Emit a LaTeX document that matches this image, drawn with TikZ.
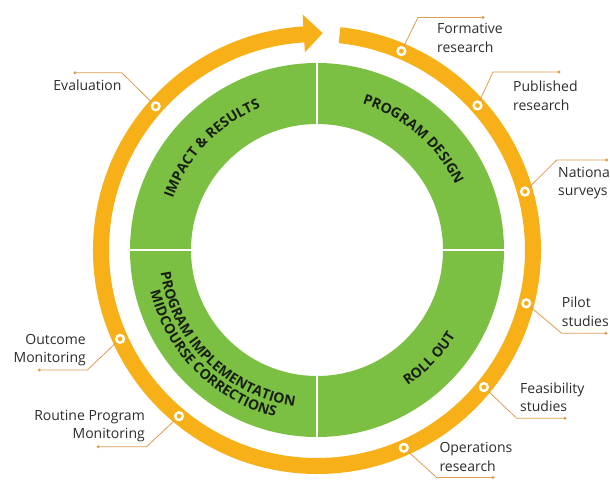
\documentclass[tikz,border=0pt]{standalone}
\usepackage{fontspec}
\setmainfont{Open Sans}
\usetikzlibrary{decorations.text}
\definecolor{ring}{RGB}{248,176,24}
\definecolor{grn}{RGB}{124,192,67}
\definecolor{lead}{RGB}{222,158,82}
\definecolor{txt}{RGB}{45,45,45}
\definecolor{gtxt}{RGB}{25,30,20}
\newcommand\ringtxt{\fontsize{14}{14}\selectfont\bfseries}
\begin{document}
\begin{tikzpicture}[x=1pt,y=1pt,
  dot/.style={circle,fill=white,minimum size=10pt,inner sep=0pt,
    path picture={\fill[ring] (path picture bounding box.center) circle[radius=2.4pt];}},
  leader/.style={draw=lead,line width=0.8pt},
  lend/.style={circle,fill=lead,inner sep=0pt,minimum size=3.2pt},
  lbl/.style={text=txt,font=\fontsize{14}{18.5}\selectfont,inner sep=0pt},
  ringlbl/.style={decorate,decoration={text along path,text align=center,text color=gtxt,text={|\ringtxt|#1}}}
]
\useasboundingbox[fill=white] (-317,-229) rectangle (293,250);

% green ring
\fill[grn,even odd rule] (0,0) circle[radius=187pt] (0,0) circle[radius=126pt];
\draw[white,line width=2pt] (0,-190) -- (0,190);
\draw[white,line width=2pt] (-190,0) -- (190,0);

% orange ring with arrow
\fill[ring] (84:224pt) arc[start angle=84,end angle=-266.5,radius=224pt]
  -- (-266.5:236pt) -- (88.5:217pt) -- (-266.5:198pt) -- (-266.5:208pt)
  arc[start angle=-266.5,end angle=84,radius=208pt] -- cycle;

% curved ring texts
\path[ringlbl={IMPACT {\&} RESULTS}] (176:153pt) arc[start angle=176,end angle=96,radius=153pt];
\path[ringlbl={PROGRAM DESIGN}] (89:153pt) arc[start angle=89,end angle=9,radius=153pt];
\path[ringlbl={ROLL OUT}] (-84:163pt) arc[start angle=-84,end angle=-4,radius=163pt];
\path[ringlbl={PROGRAM IMPLEMENTATION}] (185:158pt) arc[start angle=185,end angle=265,radius=158pt];
\path[ringlbl={MIDCOURSE CORRECTIONS}] (185:172pt) arc[start angle=185,end angle=265,radius=172pt];

% dots
\node[dot] (d1) at (67:216pt) {};
\node[dot] (d2) at (42:216pt) {};
\node[dot] (d3) at (15.7:216pt) {};
\node[dot] (d4) at (-14.3:216pt) {};
\node[dot] (d5) at (-39.4:216pt) {};
\node[dot] (d6) at (-66.3:216pt) {};
\node[dot] (d7) at (138.3:216pt) {};
\node[dot] (d8) at (204.3:216pt) {};
\node[dot] (d9) at (230.3:216pt) {};

% bends and ends
\coordinate (b1) at (101,232.5);   \node[lend] (e1) at (166,232.5) {};
\coordinate (b2) at (176,178);     \node[lend] (e2) at (242,178) {};
\coordinate (b3) at (239.7,90);    \node[lend] (e3) at (289.7,90) {};
\coordinate (b4) at (244.7,-83.3); \node[lend] (e4) at (289,-83.3) {};
\coordinate (b5) at (199.7,-168.3);\node[lend] (e5) at (248,-168.3) {};
\coordinate (b6) at (119.7,-227.5);\node[lend] (e6) at (176,-227.5) {};
\coordinate (b7) at (-195.3,177.3);\node[lend] (e7) at (-242,177.3) {};
\coordinate (b8) at (-229.7,-120); \node[lend] (e8) at (-277.7,-120) {};
\coordinate (b9) at (-170.3,-196.7);\node[lend] (e9) at (-218.7,-196.7) {};

\foreach \i in {1,...,9}{\draw[leader] (d\i) -- (b\i) -- (e\i.center);}
\foreach \i in {1,...,9}{\node[dot] at (d\i) {};}

% labels
\node[lbl,anchor=west,align=left] (t1) at (120,212) {Formative\\research};
\node[lbl,anchor=west,align=left] (t2) at (196,154) {Published\\research};
\node[lbl,anchor=west,align=left] (t3) at (241,67) {National\\surveys};
\node[lbl,anchor=west,align=left] (t4) at (244.7,-61.7) {Pilot\\studies};
\node[lbl,anchor=west,align=left] (t5) at (203,-147) {Feasibility\\studies};
\node[lbl,anchor=west,align=left] (t6) at (122.3,-207) {Operations\\research};
\node[lbl,anchor=east,align=right] (t7) at (-195.3,165) {Evaluation};
\node[lbl,anchor=east,align=right] (t8) at (-231,-100) {Outcome\\Monitoring};
\node[lbl,anchor=east,align=right] (t9) at (-172,-176) {Routine Program\\Monitoring};
\end{tikzpicture}
\end{document}
